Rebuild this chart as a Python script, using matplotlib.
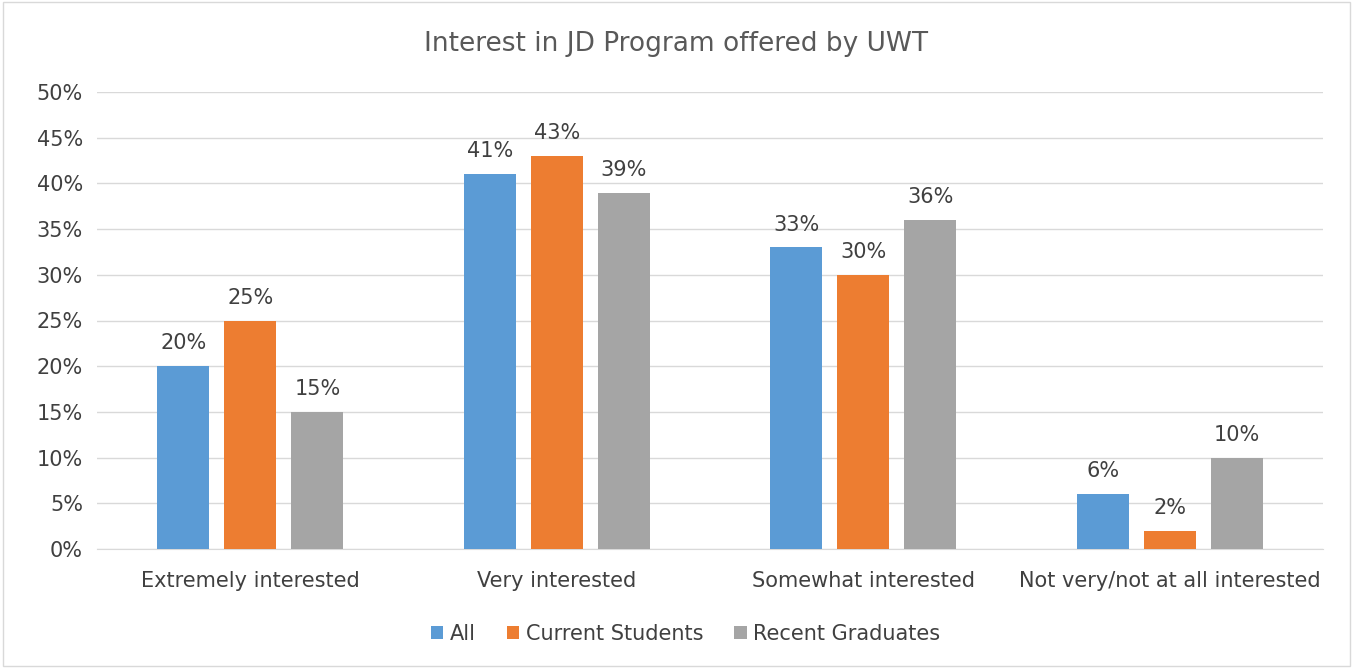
import numpy as np
import matplotlib.pyplot as plt
from matplotlib.patches import Rectangle

categories = ["Extremely interested", "Very interested", "Somewhat interested",
              "Not very/not at all interested"]
series_names = ["All", "Current Students", "Recent Graduates"]
all_vals = [20, 41, 33, 6]
students = [25, 43, 30, 2]
graduates = [15, 39, 36, 10]
colors = ["#5B9BD5", "#ED7D31", "#A5A5A5"]

fig = plt.figure(figsize=(13.53, 6.68), dpi=100)
ax = fig.add_axes([97 / 1353, 1 - 549 / 668, (1323 - 97) / 1353, (549 - 92) / 668])

x = np.arange(len(categories))
width = 0.17
step = 0.219
for i, (vals, name, c) in enumerate(zip([all_vals, students, graduates], series_names, colors)):
    pos = x + (i - 1) * step
    ax.bar(pos, vals, width, color=c, label=name, zorder=3)
    for p, v in zip(pos, vals):
        ax.text(p, v + 1.4, f"{v}%", ha="center", va="bottom", fontsize=15, color="#404040")

ax.set_xlim(-0.5, 3.5)
ax.set_ylim(0, 50)
ax.set_yticks(range(0, 51, 5))
ax.set_yticklabels([f"{t}%" for t in range(0, 51, 5)])
ax.set_xticks(x)
ax.set_xticklabels(categories)
ax.tick_params(axis="both", length=0, labelsize=15, labelcolor="#404040")
ax.tick_params(axis="x", pad=16)
ax.tick_params(axis="y", pad=10)
ax.grid(axis="y", color="#D9D9D9", linewidth=1, zorder=0)
for s in ["top", "right", "left"]:
    ax.spines[s].set_visible(False)
ax.spines["bottom"].set_color("#D9D9D9")

fig.text(0.5, 1 - 44 / 668, "Interest in JD Program offered by UWT", ha="center", va="center",
         fontsize=19, color="#595959")

ax.legend(loc="center", bbox_to_anchor=(0.48, -0.185), ncol=3, frameon=False,
          fontsize=15, handlelength=0.6, handleheight=0.6, columnspacing=1.5,
          handletextpad=0.3, labelcolor="#404040")

fig.patches.append(Rectangle((0.002, 0.003), 0.996, 0.994, transform=fig.transFigure,
                             fill=False, edgecolor="#D9D9D9", linewidth=1))

fig.savefig("out.png", dpi=100)
